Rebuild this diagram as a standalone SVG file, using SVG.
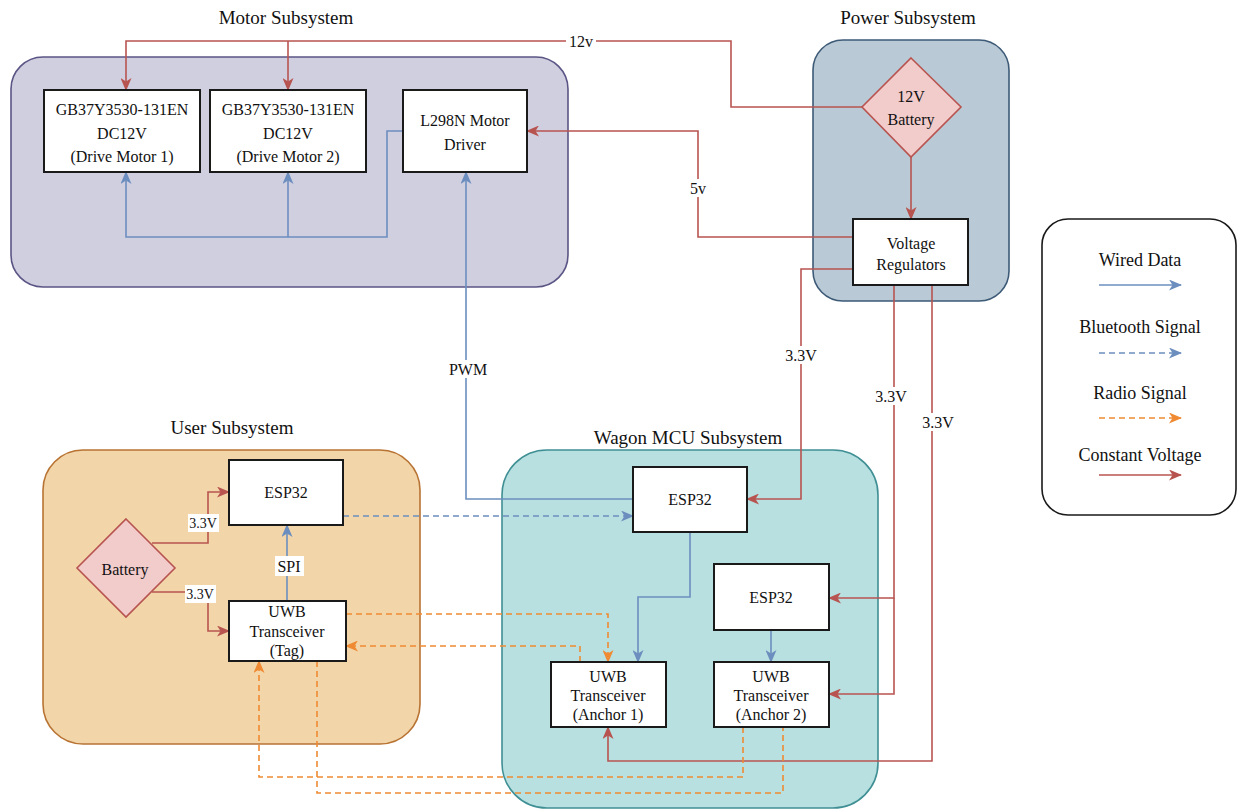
<svg xmlns="http://www.w3.org/2000/svg" width="1238" height="810" viewBox="0 0 1238 810">
<style>
text{font-family:"Liberation Serif","Times New Roman",serif;fill:#111;text-anchor:middle;dominant-baseline:central}
.title{font-size:19px}
.node{font-size:16px}
.lbl{font-size:16px}
.small{font-size:14px}
.leg{font-size:18px}
.box{fill:#fff;stroke:#1a1a1a;stroke-width:2}
.dia{fill:#f2cbcb;stroke:#b85450;stroke-width:1.6}
.red{fill:none;stroke:#b85450;stroke-width:1.6}
.blue{fill:none;stroke:#6c8ebf;stroke-width:1.6}
.bdash{fill:none;stroke:#6c8ebf;stroke-width:1.6;stroke-dasharray:6 4}
.odash{fill:none;stroke:#ef8a32;stroke-width:1.6;stroke-dasharray:6 4}
.bg{fill:#fff}
</style>
<defs>
<marker id="aR" viewBox="0 0 13 11" refX="12" refY="5.5" markerWidth="13" markerHeight="11" orient="auto" markerUnits="userSpaceOnUse"><path d="M0,0 L13,5.5 L0,11 L3.5,5.5 z" fill="#b85450"/></marker>
<marker id="aB" viewBox="0 0 13 11" refX="12" refY="5.5" markerWidth="13" markerHeight="11" orient="auto" markerUnits="userSpaceOnUse"><path d="M0,0 L13,5.5 L0,11 L3.5,5.5 z" fill="#6c8ebf"/></marker>
<marker id="aO" viewBox="0 0 13 11" refX="12" refY="5.5" markerWidth="13" markerHeight="11" orient="auto" markerUnits="userSpaceOnUse"><path d="M0,0 L13,5.5 L0,11 L3.5,5.5 z" fill="#ef8a32"/></marker>
</defs>
<rect width="1238" height="810" fill="#fff"/>

<!-- Containers -->
<g id="motor-subsystem">
<rect x="11" y="57" width="557" height="230" rx="32" fill="#d0cfe0" stroke="#5a5585" stroke-width="1.6"/>
<text class="title" x="286" y="17">Motor Subsystem</text>
</g>
<g id="power-subsystem">
<rect x="813" y="40" width="196" height="261" rx="30" fill="#b9c9d5" stroke="#3d5a77" stroke-width="1.6"/>
<text class="title" x="908" y="17">Power Subsystem</text>
</g>
<g id="user-subsystem">
<rect x="43" y="450" width="377" height="294" rx="40" fill="#f2d6a9" stroke="#b87333" stroke-width="1.6"/>
<text class="title" x="232" y="427">User Subsystem</text>
</g>
<g id="wagon-subsystem">
<rect x="502" y="450" width="376" height="358" rx="45" fill="#b8e0e0" stroke="#3f8f94" stroke-width="1.6"/>
<text class="title" x="688" y="437">Wagon MCU Subsystem</text>
</g>

<!-- Connectors -->
<g id="connectors">
<path class="red" d="M862,107 H731 V41 H126 V90" marker-end="url(#aR)"/>
<path class="red" d="M288,41 V90" marker-end="url(#aR)"/>
<path class="red" d="M911,157 V219" marker-end="url(#aR)"/>
<path class="red" d="M853,237 H698 V131 H527" marker-end="url(#aR)"/>
<path class="red" d="M853,269 H801 V499 H747" marker-end="url(#aR)"/>
<path class="red" d="M894,285 V598 H829" marker-end="url(#aR)"/>
<path class="red" d="M894,598 V694 H829" marker-end="url(#aR)"/>
<path class="red" d="M932,285 V761 H608 V727" marker-end="url(#aR)"/>
<path class="red" d="M152,543 H208 V492 H229" marker-end="url(#aR)"/>
<path class="red" d="M152,592 H208 V631 H229" marker-end="url(#aR)"/>

<path class="blue" d="M633,499 H466 V172" marker-end="url(#aB)"/>
<path class="blue" d="M403,131 H387 V237 H126 V172" marker-end="url(#aB)"/>
<path class="blue" d="M288,237 V172" marker-end="url(#aB)"/>
<path class="blue" d="M690,532 V597 H638 V662" marker-end="url(#aB)"/>
<path class="blue" d="M771,630 V662" marker-end="url(#aB)"/>
<path class="blue" d="M287,601 V525" marker-end="url(#aB)"/>
<path class="bdash" d="M343,516 H633" marker-end="url(#aB)"/>

<path class="odash" d="M346,614 H608 V662" marker-end="url(#aO)"/>
<path class="odash" d="M580,662 V646 H346" marker-end="url(#aO)"/>
<path class="odash" d="M743,727 V777 H259 V661" marker-end="url(#aO)"/>
<path class="odash" d="M317,661 V793 H783 V727"/>

<rect class="bg" x="566" y="32" width="30" height="18"/>
<text class="lbl" x="581" y="41">12v</text>
<rect class="bg" x="686" y="179" width="24" height="18"/>
<text class="lbl" x="698" y="188">5v</text>
<rect class="bg" x="781" y="346" width="40" height="18"/>
<text class="lbl" x="801" y="355">3.3V</text>
<rect class="bg" x="871" y="387" width="40" height="18"/>
<text class="lbl" x="891" y="396">3.3V</text>
<rect class="bg" x="918" y="413" width="40" height="18"/>
<text class="lbl" x="938" y="422">3.3V</text>
<rect class="bg" x="447" y="360" width="42" height="18"/>
<text class="lbl" x="468" y="369">PWM</text>
<rect class="bg" x="188" y="514" width="31" height="18"/>
<text class="small" x="203" y="523">3.3V</text>
<rect class="bg" x="185" y="585" width="31" height="18"/>
<text class="small" x="200" y="594">3.3V</text>
<rect class="bg" x="275" y="556" width="29" height="20"/>
<text class="lbl" x="289" y="566">SPI</text>
</g>

<!-- Nodes -->
<g id="drive-motor-1">
<rect class="box" x="44" y="90" width="156" height="82"/>
<text class="node" x="122" y="109">GB37Y3530-131EN</text>
<text class="node" x="122" y="133">DC12V</text>
<text class="node" x="122" y="156">(Drive Motor 1)</text>
</g>
<g id="drive-motor-2">
<rect class="box" x="210" y="90" width="156" height="82"/>
<text class="node" x="288" y="109">GB37Y3530-131EN</text>
<text class="node" x="288" y="133">DC12V</text>
<text class="node" x="288" y="156">(Drive Motor 2)</text>
</g>
<g id="l298n">
<rect class="box" x="403" y="90" width="124" height="82"/>
<text class="node" x="465" y="120">L298N Motor</text>
<text class="node" x="465" y="144">Driver</text>
</g>
<g id="battery-12v">
<polygon class="dia" points="911,58 961,107 911,157 862,107"/>
<text class="node" x="911" y="96">12V</text>
<text class="node" x="911" y="119">Battery</text>
</g>
<g id="voltage-regulators">
<rect class="box" x="853" y="219" width="115" height="66"/>
<text class="node" x="911" y="243">Voltage</text>
<text class="node" x="911" y="264">Regulators</text>
</g>
<g id="user-esp32">
<rect class="box" x="229" y="460" width="114" height="65"/>
<text class="node" x="286" y="492">ESP32</text>
</g>
<g id="user-battery">
<polygon class="dia" points="126,519 175,568 126,617 77,568"/>
<text class="node" x="125" y="569">Battery</text>
</g>
<g id="uwb-tag">
<rect class="box" x="229" y="601" width="117" height="60"/>
<text class="node" x="287" y="611">UWB</text>
<text class="node" x="287" y="631">Transceiver</text>
<text class="node" x="287" y="650">(Tag)</text>
</g>
<g id="wagon-esp32">
<rect class="box" x="633" y="467" width="114" height="65"/>
<text class="node" x="690" y="499">ESP32</text>
</g>
<g id="wagon-esp32-2">
<rect class="box" x="714" y="564" width="115" height="66"/>
<text class="node" x="771" y="597">ESP32</text>
</g>
<g id="uwb-anchor-1">
<rect class="box" x="551" y="662" width="115" height="65"/>
<text class="node" x="608" y="676">UWB</text>
<text class="node" x="608" y="695">Transceiver</text>
<text class="node" x="608" y="714">(Anchor 1)</text>
</g>
<g id="uwb-anchor-2">
<rect class="box" x="714" y="662" width="115" height="65"/>
<text class="node" x="771" y="676">UWB</text>
<text class="node" x="771" y="695">Transceiver</text>
<text class="node" x="771" y="714">(Anchor 2)</text>
</g>

<!-- Legend -->
<g id="legend">
<rect x="1042" y="219" width="194" height="296" rx="26" fill="#fff" stroke="#1a1a1a" stroke-width="1.6"/>
<text class="leg" x="1140" y="260">Wired Data</text>
<path class="blue" d="M1099,285 H1181" marker-end="url(#aB)"/>
<text class="leg" x="1140" y="327">Bluetooth Signal</text>
<path class="bdash" d="M1099,353 H1181" marker-end="url(#aB)"/>
<text class="leg" x="1140" y="393">Radio Signal</text>
<path class="odash" d="M1099,418 H1181" marker-end="url(#aO)"/>
<text class="leg" x="1140" y="455">Constant Voltage</text>
<path class="red" d="M1099,475 H1181" marker-end="url(#aR)"/>
</g>
</svg>
